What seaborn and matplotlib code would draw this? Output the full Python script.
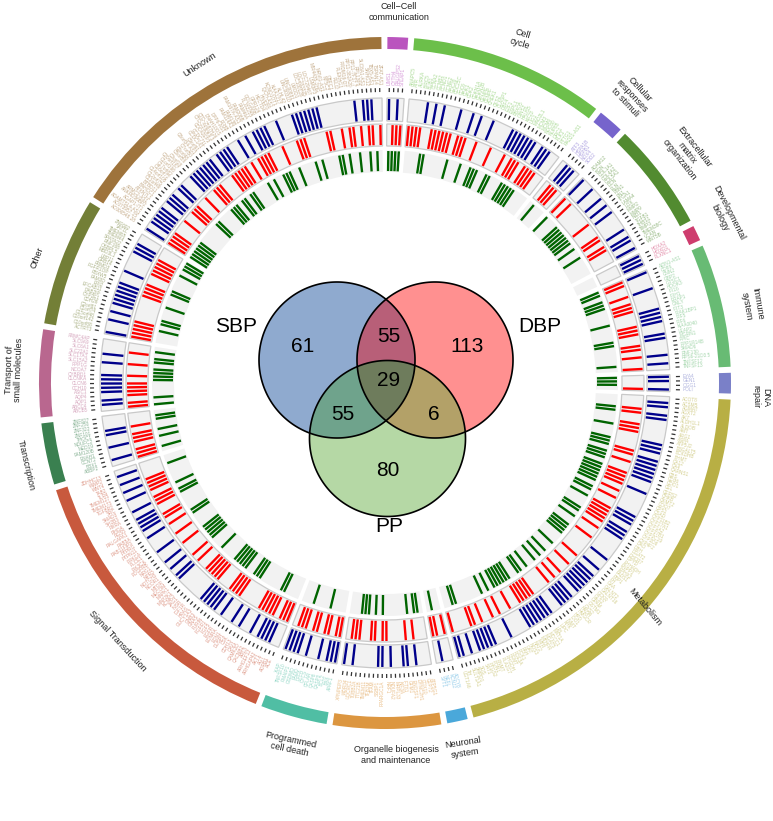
import numpy as np
import pandas as pd
import matplotlib
matplotlib.use("Agg")
import matplotlib.pyplot as plt
from matplotlib.patches import Polygon
from matplotlib.colors import to_rgb
import seaborn as sns

# ---------------- data ----------------
SECTOR_COLORS = ["#BA55BE", "#6CBF4A", "#7664CC", "#528B30", "#CE3D6E", "#68BB74", "#7A80C8", "#B8AF44",
                 "#4AA8DA", "#DC9640", "#50BEA4", "#C8593D", "#3A8050", "#B9678F", "#737F37", "#9E733B"]

GENES_CELLCELL = ["LIMS1", "CYTH4", "RALGPS2", "STEAP1"]
GENES_CYCLE = ["ANAPC5", "ATR", "AURKA", "BIRC5", "BUB1", "CCNA2", "CCNB2", "CCND1", "CCNE2", "CDC20", "CDC25C", "CDC6", "CDK1",
               "CDK2", "CDKN1A", "CDKN2B", "CENPE", "CENPF", "CHEK1", "CKS2", "CLASP1", "DBF4", "E2F1", "ESPL1", "FBXO5", "GINS2",
               "HAUS5", "KIF23", "LIG1", "MAD2L1", "MCM3", "MCM6", "NDC80", "NUP85", "ORC1", "PLK1", "PTTG1", "RAD21-AS1"]
GENES_RESPONSE = ["ATF3", "HSPA1B", "HSPB1", "NOX4", "SOD2"]
GENES_ECM = ["ADAM12", "BGN", "COL1A1", "COL4A2", "COL5A1", "DCN", "ELN", "FBN1", "FN1", "ITGA1", "LAMA4", "LOX", "MMP2",
             "MMP9", "NID1", "TGFB1", "THBS1", "TIMP3", "TMEM38C", "VCAN", "WNT5B"]
GENES_DEV = ["HOXA2", "HOXD1", "PLXNC1"]
GENES_IMMUNE = ["AZIN1-AS1", "CD86", "CNN2", "GBP2", "GTSC1", "HOOK3", "IFI16", "IFIH1", "ERAP1", "GNLY", "IFIT3", "IRAK1BP1",
                "IRF5", "IRF6", "KIAA0040", "LEAP2", "MGRN1", "PPIC", "PPP1R14B", "SMAD6", "RNF130", "RPS6-21D3.5", "TNFSF12",
                "TNFSF13"]
GENES_DNA = ["EYA4", "GEN1", "OGG1", "POLI"]
GENES_METAB = ["ACOT8", "ACSM5", "AGMAT", "AGXT2", "AK7", "ALDH1L1", "ALDOB", "AMT", "ARG1", "ASPA", "ATP5J2", "B3GALT5", "BCKDHB",
               "BHMT", "CA12", "CA4", "CARNS1", "CBS", "CD36", "CDO1", "CEL", "CERS2", "CHKB", "CKMT2", "COQ7", "CPS1", "CSAD",
               "CYP11B2", "CYP17A1", "CYP1A2", "CYP27B1", "CYP2C19", "CYP2D6", "CYP4F2", "DAO", "DBH", "DGAT2", "DHCR7", "DPYD",
               "EHHADH", "ENPP1", "EPHX2", "FADS1", "FBP1", "FH", "GAA", "GALNT2", "GALNT16", "GCKR", "GLS2", "GPAM", "GSTM1",
               "GYS2", "HADH", "HMGCR", "HPD", "IDO1", "INMT", "KHK", "LIPC", "LPL", "MAT1A", "MCCC1", "MGAT5", "MTHFR", "MTR",
               "NAT2", "NOS3", "OAT", "PAH", "PCK1", "PDE3A", "PEMT", "PHGDH", "PLA2G7", "PNMT", "PON1", "PTGS2", "SAT1", "SDS",
               "SMPD1", "SULT1A1", "TH", "UGT1A6"]
GENES_NEURO = ["ADCY8", "KCNJ2", "NEFL", "SYT1"]
GENES_ORGAN = ["ATP5G1", "CEP72", "COX10", "DYNC2H1", "ENOSF1", "GFM1", "IFT81", "KIF3A", "MRPL33", "NDUFA2", "NRF1", "PPARGC1A",
               "SSBP1", "TFAM", "TFB2M", "TMEM11", "TTC21B", "TUBB2A", "UQCRC1", "WDR34", "XPNPEP3"]
GENES_PCD = ["APAF1", "BAX", "BCL2", "CASP3", "CASP8", "CFLAR", "CYCS", "DFFA", "FADD", "GSDMD", "PMAIP1", "TNFSF10", "XIAP"]
GENES_SIGNAL = ["ACE", "ADRB1", "AGT", "AKT1", "ARHGAP42", "ARHGEF12", "ARL3", "CACNB2", "CAMK2D", "CAV1", "CDH13", "CSK", "DUSP1",
                "EDN1", "EDNRA", "EGFR", "FGF5", "FGFR1", "FURIN", "GNAS", "GNB3", "GUCY1A3", "HRAS", "IGF1R", "INSR", "JAG1", "KCNK3",
                "MAP2K1", "MAPK1", "MECOM", "MTOR", "NCOR1", "NOTCH3", "NPR3", "NRG1", "PDGFRB", "PIK3CA", "PLCE1", "PRKCA", "PTPN11",
                "PTPRG", "RAB11FIP3", "RAB5A", "RALGAPA1", "RGS5", "RHOA", "RXRA", "SH2B3", "SMAD3", "SRC", "TGFBR2", "TMEM173",
                "TMEM127", "TLR4", "TAB2", "WNT4", "WWP2", "ZDHHC13"]
GENES_TRANSCR = ["ABBP2", "BBX1", "CCNT2", "ENAH1", "FAM120B", "MED19", "NDUFC2", "THOC1", "ZNF101", "ZNF322", "ZNF250", "ZNF827"]
GENES_TRANSPORT = ["ABCB5", "ABCC4", "AQP1", "AQP4", "ASIC1", "CCH10", "CLCN6", "CLCNKA", "CYBRD1", "NCOA7", "PPP1G", "SLC15A2",
                   "SLC17A1", "SLC22A1", "SLC6A1", "SLC9A9", "FRMC4AP"]
GENES_OTHER = ["ACTRT3", "C10orf88", "C10orf142", "C15orf48", "C1orf74", "C2orf81", "CDH26", "CYP2E1", "DAB2IP", "EFCAB11", "ERI2",
               "FAM3D", "FBXW5", "FGFR1OP", "FRMD3", "GRB14", "LRP11", "MBD3L1", "OSBPL5", "RNF168", "SPATA22", "TMEM44", "TMEM65",
               "VAT1L", "ZNF692"]
GENES_UNKNOWN = ["AC006548.28", "AC073957.15", "ADAMTSL4-AS1", "AGAP1-IT1", "ANKRD36BP2", "ARMC2-AS1", "ATXN7L1", "BAHCC1", "BTBD11",
                 "C11orf49", "C12orf75", "C14orf105", "C16orf72", "C17orf82", "C1orf198", "C20orf187", "C3orf18", "C5orf56", "C6orf48",
                 "C7orf50", "C8orf34-AS1", "C9orf91", "CCDC141", "CCDC71L", "CDC42EP3", "CTD-2330K9.3", "CTD-2587H24", "DNAH10OS",
                 "DPP6-AS1", "EFHB", "FAM114A1", "FAM13B", "FAM167A-AS1", "FAM208B", "FAM46A", "FLJ32255", "GOLGA8B", "GPR124",
                 "HECTD4", "HIVEP3", "IQCH-AS1", "KCNQ1OT1", "KIAA1217", "KLHL42", "LINC00310", "LINC00881", "LMOD1", "LOC100128",
                 "LOC283335", "LOC729467", "LSM3P3", "MIR4435-2HG", "MRVI1-AS1", "NT5C2", "OBFC1", "PELI2", "PLEKHG1", "PRDM16-DT",
                 "RP11-382A20", "RP11-7F17.7", "RPL13P5", "SLC8A1-AS1", "SNHG12", "TBX5-AS1", "TSPAN14", "ZFAT-AS1"]
SECTOR_GENES = [GENES_CELLCELL, GENES_CYCLE, GENES_RESPONSE, GENES_ECM, GENES_DEV, GENES_IMMUNE, GENES_DNA, GENES_METAB,
                GENES_NEURO, GENES_ORGAN, GENES_PCD, GENES_SIGNAL, GENES_TRANSCR, GENES_TRANSPORT, GENES_OTHER, GENES_UNKNOWN]

# which genes of each sector carry a mark in each ring (gene positions inside the sector)
SBP_HITS = [[0, 2],
            [4, 6, 8, 12, 15, 17, 20, 25, 26, 27, 28, 29, 30, 31, 33, 34, 35],
            [1, 2, 3],
            [0, 3, 6, 8, 10, 15, 17, 18, 20],
            [0, 1, 2],
            [0, 4, 9, 10, 11, 12, 15, 16, 20, 22],
            [0, 1, 3],
            [1, 2, 4, 5, 11, 12, 13, 15, 16, 17, 18, 19, 20, 23, 29, 30, 31, 33, 34, 35, 41, 44, 46, 47, 48, 49, 50, 51, 53, 54, 55,
             56, 59, 60, 61, 62, 63, 64, 65, 70, 74, 75, 76, 77, 78, 80, 82, 83],
            [2],
            [3, 5, 6, 9, 11, 12, 18, 20],
            [0, 1, 2, 4, 7, 9, 10, 11, 12],
            [2, 3, 4, 5, 7, 10, 12, 15, 17, 18, 19, 20, 21, 28, 29, 31, 33, 36, 40, 42, 43, 44, 45, 47, 50, 52, 54, 56],
            [1, 4, 7, 8],
            [1, 2, 4, 5, 6, 7, 8, 11, 13],
            [0, 3, 5, 7, 8, 9, 10, 11, 12, 15, 20, 21, 22],
            [0, 2, 3, 4, 5, 6, 8, 9, 10, 12, 13, 16, 17, 18, 19, 20, 21, 22, 24, 25, 26, 27, 30, 32, 34, 35, 36, 37, 40, 44, 45, 46,
             47, 48, 49, 50, 59, 61, 62, 63]]
DBP_HITS = [[1, 2, 3],
            [0, 1, 2, 3, 6, 7, 8, 9, 10, 11, 13, 14, 15, 18, 22, 26, 28, 29, 30, 32, 33, 34, 35],
            [1, 2, 3],
            [0, 2, 9, 13, 14, 16, 17],
            [],
            [0, 1, 4, 6, 7, 8, 12, 13, 14, 17, 18, 20, 23],
            [3],
            [3, 4, 7, 8, 9, 14, 15, 17, 20, 21, 22, 23, 25, 27, 30, 31, 32, 33, 34, 36, 39, 45, 48, 51, 53, 55, 60, 61, 62, 63, 64,
             67, 70, 72, 75, 77, 78, 83],
            [0, 2, 3],
            [3, 5, 10, 11, 13, 14, 17, 18, 19],
            [0, 1, 3, 4, 6, 7, 9, 10, 11],
            [0, 1, 2, 4, 5, 6, 7, 8, 14, 15, 16, 17, 21, 22, 23, 24, 25, 28, 30, 34, 37, 40, 42, 43, 46, 47, 48, 50, 51, 52, 53],
            [0, 1, 2, 4, 5, 6, 8],
            [0, 1, 3, 4, 5, 6, 8, 11, 14],
            [0, 1, 2, 3, 4, 11, 12, 13, 14, 17, 18, 19, 20, 21],
            [0, 1, 2, 3, 7, 10, 11, 12, 15, 18, 19, 20, 24, 25, 26, 27, 28, 30, 32, 33, 34, 35, 39, 43, 44, 45, 51, 52, 55, 57, 58,
             60, 62, 63, 65]]
PP_HITS = [[0, 1, 2, 3],
           [4, 5, 12, 16, 19, 20, 21, 24, 25, 29, 30, 31, 32, 33],
           [1],
           [0, 4, 5, 6, 7, 8, 9, 10, 12, 15],
           [],
           [0, 1, 3, 4, 5, 10, 15, 16, 22],
           [0, 1, 2],
           [3, 4, 8, 12, 13, 14, 16, 17, 18, 20, 21, 22, 23, 24, 25, 27, 28, 30, 34, 35, 37, 40, 41, 42, 43, 47, 50, 52, 54, 57, 59,
            60, 63, 64, 65, 66, 67, 68, 70, 72, 80, 81],
           [2],
           [1, 2, 4, 11, 13, 15, 16, 17],
           [4, 9],
           [4, 5, 12, 13, 14, 17, 18, 19, 20, 21, 26, 30, 31, 32, 33, 34, 39, 40, 46, 47, 49, 55],
           [1, 4, 6, 9, 10],
           [0, 2, 7, 8, 9, 10, 12, 13, 15],
           [3, 5, 6, 10, 14, 15, 20, 22, 23, 24],
           [0, 1, 2, 3, 4, 5, 12, 13, 18, 19, 20, 22, 23, 25, 26, 31, 33, 36, 37, 38, 41, 46, 48, 53, 54, 56, 59, 62, 64]]

VENN_SETS = ["SBP", "DBP", "PP"]
VENN_COUNTS = [61, 113, 80, 55, 55, 6, 29]
SECTOR_LABELS = ["Cell\N{MINUS SIGN}Cell\ncommunication", "Cell\ncycle", "Cellular\nresponses\nto stimuli",
                 "Extracellular\nmatrix\norganization", "Developmental\nbiology", "Immune\nsystem", "DNA\nrepair", "Metabolism",
                 "Neuronal\nsystem", "Organelle biogenesis\nand maintenance", "Programmed\ncell death", "Signal Transduction",
                 "Transcription", "Transport of\nsmall molecules", "Other", "Unknown"]

# ---------------- layout ----------------
W, H, DPI = 773, 821, 100
CX, CY, RMAX = 385, 383, 378
START, GAP = 0.4, 1.0
RING_BLUE, RING_RED, RING_GREEN = (262, 285), (237, 259), (211, 233)
LABEL_POS = [(399, 12, 0), (521, 39, -17), (632, 96, -47), (687, 153, -52), (724, 215, -63), (752, 305, -80), (761, 397, -90),
             (645, 607, -50), (464, 748, 9), (396, 755, 0), (290, 745, -12), (117, 641, -47), (26, 465, -77), (14, 370, 88),
             (37, 258, 69), (200, 65, 33)]
VENN_LABELS = [(236, 327), (540, 327), (389, 527)]
VENN_NUMS = [(303, 347), (467, 347), (388, 471), (389, 336), (343, 414), (434, 414), (389, 381)]
VENN_C = {"S": (337, 360), "D": (435, 360), "P": (387.5, 438.5)}
VENN_R = 78
VENN_FILLS = {"S": "#8FAACF", "D": "#FF9090", "P": "#B5D8A5", "SD": "#B85F78", "SP": "#6FA38C", "DP": "#B3A168", "SDP": "#6E7C5C"}

sns.set_theme(style="white")
plt.rcParams["font.family"] = ["Liberation Sans", "DejaVu Sans"]

fig = plt.figure(figsize=(W / DPI, H / DPI), dpi=DPI, facecolor="white")
ax = fig.add_axes([(CX - RMAX) / W, (H - CY - RMAX) / H, 2 * RMAX / W, 2 * RMAX / H], projection="polar")
ax.set_theta_zero_location("N")
ax.set_theta_direction(-1)
ax.axis("off")

counts = np.array([len(g) for g in SECTOR_GENES])
step = (360 - GAP * len(counts)) / counts.sum()
starts = START + np.concatenate([[0], np.cumsum(counts[:-1] * step + GAP)])


def gene_angle(s, i):
    return starts[s] + step * (i + 0.5)


def lighten(c, f=0.5):
    return tuple(np.array(to_rgb(c)) * (1 - f) + f)


ring_rows = {"SBP": [], "DBP": [], "PP": []}
for name, hits, (r0, r1) in [("SBP", SBP_HITS, RING_BLUE), ("DBP", DBP_HITS, RING_RED), ("PP", PP_HITS, RING_GREEN)]:
    for s, idx in enumerate(hits):
        for i in idx:
            t = np.deg2rad(gene_angle(s, i))
            key = f"{s}-{i}"
            ring_rows[name] += [(t, r0 + 1, key), (t, r1 - 1, key)]

for s, genes in enumerate(SECTOR_GENES):
    a0, a1 = starts[s], starts[s] + counts[s] * step
    mid, wid = np.deg2rad((a0 + a1) / 2), np.deg2rad(a1 - a0)
    ax.bar(mid, 12, width=wid, bottom=334, color=SECTOR_COLORS[s], linewidth=0)
    for (r0, r1), edge in [(RING_BLUE, "#c9c9c9"), (RING_RED, "#c9c9c9"), (RING_GREEN, "none")]:
        ax.bar(mid, r1 - r0, width=wid, bottom=r0, color="#f2f2f2", edgecolor=edge, linewidth=0.9)
    tcol = lighten(SECTOR_COLORS[s], 0.4)
    for i, g in enumerate(genes):
        a = gene_angle(s, i)
        t = np.deg2rad(a)
        ax.plot([t, t], [291, 295], color="#333333", lw=0.9, solid_capstyle="butt")
        right = a < 180
        ax.text(t, 298, g, fontsize=3.4, color=tcol, va="center", ha="left" if right else "right",
                rotation=(90 - a) if right else (270 - a), rotation_mode="anchor")

for name, col in [("SBP", "#00008B"), ("DBP", "#FF0000"), ("PP", "#006400")]:
    df = pd.DataFrame(ring_rows[name], columns=["theta", "r", "gene"])
    sns.lineplot(data=df, x="theta", y="r", units="gene", estimator=None, sort=False, color=col, lw=1.7,
                 solid_capstyle="butt", legend=False, ax=ax)
ax.set_xlim(0, 2 * np.pi)
ax.set_ylim(0, RMAX)
ax.set_xlabel("")
ax.set_ylabel("")

# overlay in picture pixels for the Venn diagram and labels
ov = fig.add_axes([0, 0, 1, 1], facecolor="none")
ov.set_xlim(0, W)
ov.set_ylim(H, 0)
ov.axis("off")


def region(keys):
    """Convex outline of the intersection of the circles named in keys."""
    th = np.linspace(0, 2 * np.pi, 720, endpoint=False)
    pts = []
    for k in keys:
        x, y = VENN_C[k]
        pts.append(np.c_[x + VENN_R * np.cos(th), y + VENN_R * np.sin(th)])
    pts = np.vstack(pts)
    ok = np.ones(len(pts), bool)
    for k in keys:
        x, y = VENN_C[k]
        ok &= np.hypot(pts[:, 0] - x, pts[:, 1] - y) <= VENN_R + 1e-6
    pts = pts[ok]
    c = pts.mean(axis=0)
    return pts[np.argsort(np.arctan2(pts[:, 1] - c[1], pts[:, 0] - c[0]))]


for keys in ["S", "D", "P", "SD", "SP", "DP", "SDP"]:
    ov.add_patch(Polygon(region(keys), closed=True, facecolor=VENN_FILLS[keys], edgecolor="none"))
for k in "SDP":
    ov.add_patch(Polygon(region(k), closed=True, facecolor="none", edgecolor="black", lw=1.2))
for lab, (x, y) in zip(VENN_SETS, VENN_LABELS):
    ov.text(x, y, lab, fontsize=15, ha="center", va="center", color="black")
for n, (x, y) in zip(VENN_COUNTS, VENN_NUMS):
    ov.text(x, y, str(n), fontsize=15, ha="center", va="center", color="black")
for lab, (x, y, rot) in zip(SECTOR_LABELS, LABEL_POS):
    ov.text(x, y, lab, fontsize=6.5, ha="center", va="center", rotation=rot, rotation_mode="anchor",
            color="#222222", linespacing=1.15, multialignment="center")

fig.savefig("out.png", dpi=DPI, facecolor="white")
